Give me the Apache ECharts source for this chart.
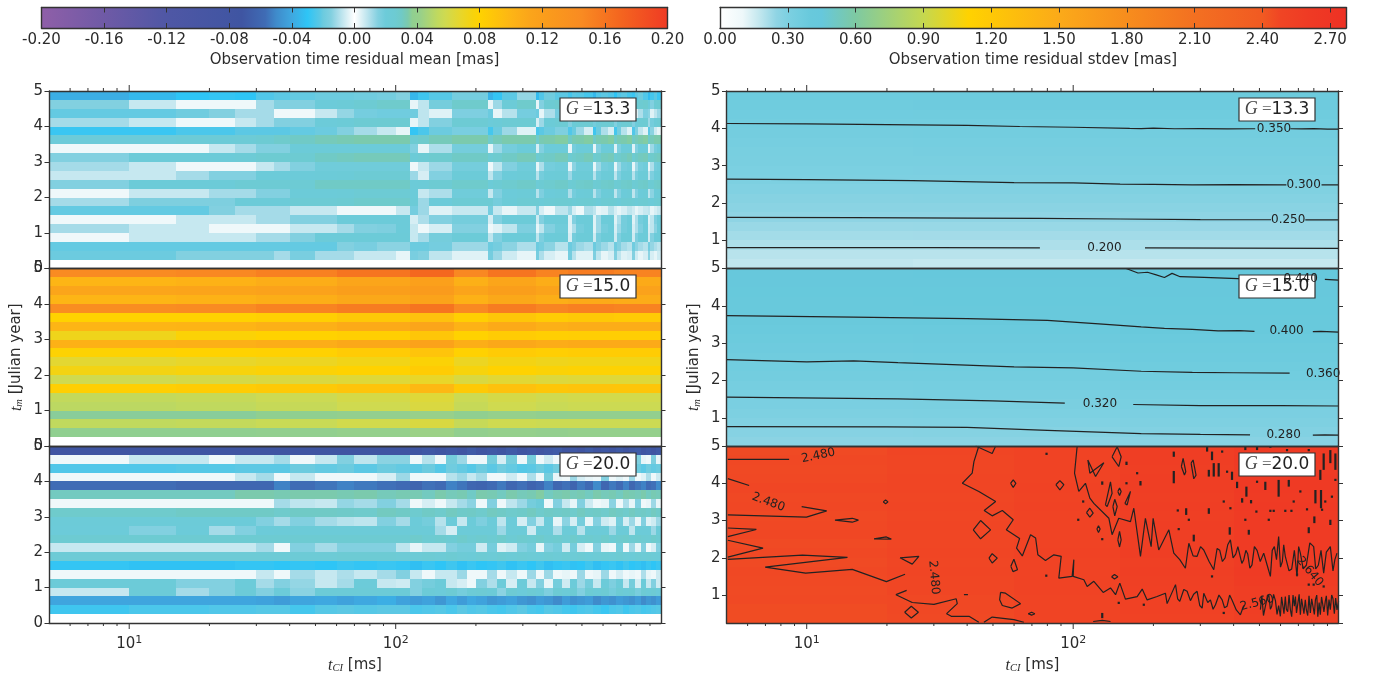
<!DOCTYPE html>
<html><head><meta charset="utf-8"><style>html,body{margin:0;padding:0;background:#fff}#c{width:1379px;height:675px}</style>
<script src="https://cdn.jsdelivr.net/npm/echarts@6/dist/echarts.min.js"></script></head><body><div id="c"></div>
<script>
// ---- values (mean rows in 0.001 mas, stdev rows in 0.001 mas; top row = 4.75-5 yr) ----
const rowEdges=[5,4.75,4.5,4.25,4,3.75,3.5,3.25,3,2.75,2.5,2.25,2,1.75,1.5,1.25,1,0.75,0.5,0.25];
const coarseEdges=[5,10,15,20,25,30,35,40,50,60,70,85,100,113];
const edgesG133=[...coarseEdges,121,133,163,222,232,250,285,335,345,360,395,443,457,475,510,550,566,590,625,660,678,700,735,769,788,812,845,883,904,928,958,990];
const edgesG150=[5,15,30,60,113,165,222,335,443,660,990];
const edgesG200=[...coarseEdges,125,140,155,170,185,200,220,240,260,285,310,335,360,390,420,450,480,515,550,590,630,670,710,750,790,830,870,910,950,990];
const edgesSdG133=[5,25,150,990];
const edgesSdG150=[5,25,150,990];
const edgesSdG200=[5,20,60,150,400,990];
const meanG133=[
[-38,-34,-30,-29,-30,-24,-22,-21,-20,-20,-19,-18,-15,-35,-27,-23,-18,-36,-29,-22,-13,-33,-24,-19,-22,-26,-22,-23,-26,-34,-24,-22,-24,-30,-24,-22,-26,-28,-22,-20,-24,-33,-26,-22,-28],
[15,7,2,2,2,11,15,15,20,22,25,28,28,3,8,18,28,3,12,22,28,3,15,25,27,15,22,25,27,20,24,26,27,20,24,26,27,22,25,26,27,20,15,24,26],
[-21,-21,-19,-15,-11,-11,-2,-2,-7,-13,-18,-19,-19,-19,-8,-4,-16,-20,-3,-9,-18,-20,-3,-10,-18,-18,-8,-15,-18,-20,-6,-12,-18,-18,-6,-14,-18,-16,-4,-10,-16,-14,-4,-8,-12],
[11,7,2,2,7,11,15,15,20,22,25,26,26,3,8,15,24,20,22,24,25,5,12,22,24,15,22,24,25,18,22,24,25,15,20,24,25,15,20,24,25,12,18,22,25],
[-28,-28,-25,-25,-22,-22,-22,-21,-20,-15,-11,-7,-3,-29,-25,-20,-17,-26,-20,-12,-4,-25,-22,-20,-16,-24,-20,-12,-5,-27,-20,-10,-5,-26,-18,-9,-4,-24,-16,-8,-4,-22,-14,-6,-3],
[20,20,22,22,23,25,28,30,32,33,34,34,34,26,28,32,34,28,32,34,34,28,33,34,35,30,33,34,35,30,33,34,35,30,33,34,35,30,32,34,35,29,32,34,34],
[2,2,2,7,11,15,15,21,21,20,20,20,20,15,3,10,18,3,12,18,20,5,15,20,20,3,18,20,20,3,15,20,20,4,16,20,20,4,15,20,20,3,12,18,20],
[15,21,21,21,23,26,26,26,30,31,32,32,32,22,24,27,30,25,27,30,32,26,28,30,32,26,28,30,32,26,28,31,32,25,28,30,32,26,29,31,32,25,28,30,31],
[11,7,2,2,2,7,11,15,19,19,19,19,19,2,7,12,18,2,8,15,19,3,10,18,19,3,14,19,19,3,12,18,19,3,12,18,19,3,12,18,19,3,10,18,19],
[7,7,11,15,15,20,20,20,21,22,24,24,24,12,5,15,21,8,15,20,22,9,18,21,22,12,20,22,22,9,18,21,22,8,16,21,22,9,17,21,22,8,16,20,22],
[15,21,21,21,24,24,24,24,30,30,30,30,30,21,22,25,28,22,25,27,29,23,25,27,29,24,26,28,29,24,26,28,29,24,26,28,29,24,26,28,29,23,25,28,29],
[2,7,7,11,11,15,15,21,21,22,24,24,24,20,7,10,19,7,15,20,22,9,16,20,22,10,18,21,22,9,16,21,22,8,15,20,22,8,15,20,22,8,14,20,22],
[11,16,16,16,21,21,21,24,24,26,28,28,28,22,12,20,24,24,18,22,25,25,22,24,26,25,23,25,26,24,22,25,26,24,22,25,26,24,22,25,26,23,21,24,26],
[-21,-21,-21,-15,-11,-11,-11,-7,-7,-2,-2,-2,-7,-18,-12,-4,-7,-18,-7,-3,-7,-15,-5,-2,-8,-12,-5,-2,-10,-8,-3,-4,-9,-5,-3,-5,-8,-6,-3,-5,-7,-8,-3,-5,-7],
[2,2,7,7,7,11,11,15,15,20,20,20,20,5,10,15,18,5,15,20,21,6,15,20,21,4,15,20,21,4,12,20,21,4,10,18,20,4,10,18,20,4,8,16,20],
[11,7,7,2,2,2,2,7,7,11,15,16,20,7,2,5,15,2,4,8,16,3,8,15,19,4,10,18,20,4,12,18,20,5,12,18,20,5,10,16,20,5,8,14,20],
[2,7,7,7,7,11,11,15,20,21,21,21,21,7,11,18,21,8,15,20,21,8,16,20,21,5,18,21,21,6,17,21,21,6,16,21,21,6,16,20,21,6,15,20,21],
[-21,-21,-21,-21,-21,-21,-21,-21,-21,-15,-17,-14,-14,-20,-20,-18,-12,-20,-18,-14,-10,-20,-18,-14,-9,-20,-16,-12,-10,-20,-15,-12,-9,-19,-15,-11,-9,-19,-14,-11,-9,-18,-13,-10,-8],
[-20,-20,-15,-15,-15,-15,-11,-17,-11,-11,-7,-7,-3,-17,-15,-8,-4,-18,-12,-6,-3,-18,-10,-5,-3,-18,-9,-4,-4,-16,-8,-3,-5,-15,-8,-4,-5,-15,-6,-3,-5,-14,-5,-3,-6]];
const meanG150=[
[145,147,152,160,168,147,160,150,155,150],
[100,102,106,112,118,104,112,106,110,108],
[112,113,116,120,124,113,120,114,118,116],
[100,102,105,110,114,103,110,105,108,107],
[143,145,150,155,160,146,155,149,152,150],
[80,80,82,87,92,82,88,84,86,85],
[100,101,104,108,112,102,108,104,106,106],
[72,78,80,82,88,80,84,82,83,83],
[103,104,106,110,115,105,110,107,108,108],
[79,80,81,85,90,81,85,83,84,84],
[66,68,70,73,78,70,74,72,73,73],
[74,76,78,80,84,76,80,78,79,79],
[58,60,62,64,68,62,65,63,64,64],
[82,84,86,90,98,86,92,88,90,89],
[54,55,57,60,64,57,60,58,59,59],
[52,53,55,58,62,55,58,56,57,57],
[36,36,37,39,42,37,40,38,39,39],
[53,54,56,59,62,55,58,57,57,57],
[37,37,38,40,43,38,40,39,40,40]];
const meanG200=[
[-72,-72,-72,-72,-72,-72,-72,-72,-72,-72,-72,-72,-72,-72,-70,-73,-70,-72,-68,-72,-70,-73,-68,-72,-70,-74,-70,-68,-72,-70,-74,-68,-72,-70,-73,-69,-72,-70,-68,-73,-70,-72,-69],
[2,7,7,2,7,7,11,2,7,15,8,14,14,2,9,2,18,12,2,2,18,5,18,2,18,2,6,2,18,5,2,12,2,5,2,14,2,3,16,3,2,16,3],
[-24,-24,-23,-23,-22,-22,-22,-20,-21,-20,-22,-20,-21,-22,-20,-23,-19,-21,-23,-20,-22,-19,-21,-23,-22,-20,-22,-19,-21,-23,-20,-22,-24,-20,-22,-19,-23,-21,-20,-22,-19,-21,-20],
[2,2,2,2,7,11,2,7,2,2,2,5,12,2,2,2,9,12,7,11,2,2,6,2,10,2,18,3,2,12,5,3,2,15,2,4,2,12,2,4,10,2,6],
[-57,-57,-60,-60,-60,-60,-52,-57,-55,-52,-54,-56,-58,-62,-56,-58,-52,-55,-60,-62,-58,-54,-60,-56,-62,-58,-52,-60,-56,-62,-54,-58,-50,-60,-54,-58,-52,-60,-55,-52,-58,-56,-50],
[31,31,31,31,34,34,33,34,34,33,34,32,33,33,31,34,32,33,30,34,33,31,34,32,33,35,31,33,34,32,33,31,34,32,33,31,34,33,32,34,31,33,32],
[2,2,2,2,2,2,11,8,7,13,11,15,11,2,5,2,7,11,14,2,15,2,8,12,18,20,2,15,7,3,15,6,2,3,14,2,10,3,15,2,3,12,3],
[28,28,30,30,30,30,28,30,30,29,28,31,30,27,30,28,31,29,30,28,31,30,28,29,31,28,30,29,30,28,31,29,30,28,31,30,28,31,29,30,28,31,29],
[21,21,21,21,20,15,11,15,11,9,8,15,11,20,18,9,20,7,20,16,20,8,20,5,15,7,20,3,14,5,18,3,15,6,4,18,5,12,3,15,4,6,12],
[20,15,20,11,15,20,21,21,21,21,21,21,21,21,21,11,5,21,21,21,21,12,21,21,6,21,21,10,21,21,9,21,21,21,12,21,21,8,21,21,21,12,21],
[26,26,26,26,26,26,26,26,26,26,26,26,26,28,26,27,25,28,26,27,26,28,25,27,26,28,26,27,25,28,26,27,26,28,25,27,28,26,27,26,25,28,26],
[7,7,7,7,7,11,2,15,11,15,15,15,8,3,7,7,15,18,18,6,18,4,6,15,18,3,15,18,6,18,5,2,15,3,2,18,2,12,3,15,2,5,15],
[23,23,23,23,23,23,23,23,23,24,24,24,23,23,24,23,25,23,22,24,23,25,23,24,23,22,24,23,25,23,24,22,23,24,23,25,23,22,24,23,24,23,22],
[-29,-31,-31,-31,-29,-29,-30,-29,-30,-28,-29,-28,-29,-32,-28,-30,-27,-31,-28,-30,-29,-27,-31,-28,-30,-27,-32,-29,-28,-31,-30,-27,-32,-29,-28,-31,-27,-30,-29,-32,-28,-30,-28],
[2,2,2,2,2,7,2,11,7,10,7,11,15,7,2,7,7,12,2,2,11,2,7,2,12,2,12,2,3,2,12,2,3,12,2,5,2,3,2,10,3,2,6],
[21,21,15,15,20,11,15,13,7,11,20,7,6,15,18,20,7,5,2,15,10,20,5,20,7,15,3,18,6,20,12,18,7,20,16,20,7,18,5,20,7,15,6],
[7,21,11,15,21,15,20,14,22,22,22,22,22,15,22,20,24,18,23,24,22,14,24,20,24,22,16,24,22,24,15,24,22,24,18,24,22,24,17,24,22,24,20],
[-41,-41,-41,-41,-41,-42,-44,-41,-40,-42,-40,-38,-42,-44,-42,-46,-40,-44,-40,-42,-46,-44,-42,-46,-48,-44,-46,-50,-44,-48,-46,-44,-50,-46,-48,-44,-46,-48,-44,-50,-46,-48,-44],
[-27,-25,-25,-24,-24,-23,-23,-26,-23,-22,-23,-22,-22,-25,-24,-23,-25,-22,-24,-23,-25,-26,-24,-22,-25,-26,-23,-24,-26,-27,-25,-24,-26,-28,-25,-24,-27,-25,-24,-26,-25,-24,-23]];
const stdevG133=[[375,377,380],[367,369,372],[358,360,363],[350,352,355],[342,344,347],[333,335,338],[325,327,330],[316,318,321],[308,310,313],[300,302,305],[288,290,293],[276,278,280],[263,265,267],[250,251,252],[235,236,237],[220,221,222],[205,206,207],[190,190,191],[178,172,168]];
const stdevG150=[[437,439,445],[428,430,437],[420,422,429],[412,414,421],[404,406,414],[396,398,406],[388,390,398],[380,382,390],[370,373,381],[362,365,373],[353,356,365],[344,347,356],[333,336,345],[323,326,334],[312,315,322],[300,303,310],[288,291,298],[275,278,285],[262,265,270]];
const stdevG200=[[2462,2480,2510,2560,2600],[2470,2478,2505,2565,2610],[2465,2475,2500,2555,2600],[2470,2480,2510,2560,2610],[2475,2485,2512,2570,2615],[2468,2478,2505,2555,2600],[2472,2482,2515,2565,2610],[2465,2478,2508,2552,2600],[2470,2480,2505,2560,2605],[2472,2478,2510,2550,2595],[2462,2476,2505,2555,2600],[2470,2482,2512,2560,2605],[2460,2475,2505,2545,2590],[2470,2480,2510,2550,2595],[2465,2478,2505,2545,2590],[2460,2475,2500,2535,2570],[2465,2470,2495,2530,2565],[2455,2468,2498,2525,2560],[2455,2465,2490,2520,2555]];
const majorTicks=[10,100];
const minorTicks=[6,7,8,9,20,30,40,50,60,70,80,90,200,300,400,500,600,700,800,900];
const meanStops=[[-200,'#8f5fa8'],[-160,'#6f5aa6'],[-120,'#4f57a5'],[-72,'#3f55a2'],[-57,'#3f6cb5'],[-50,'#3f8bcb'],[-40,'#3fa8e0'],[-30,'#2ec5f6'],[-22,'#5cc8e4'],[-20,'#6ccbdf'],[-15,'#82d0e0'],[-11,'#a5dbe8'],[-7,'#c6e8f0'],[-2,'#eff8fa'],[0,'#ffffff'],[2,'#eff8fa'],[7,'#c6e8f0'],[11,'#a5dbe8'],[15,'#82d0e0'],[20,'#6ccbd9'],[26,'#6dcbd2'],[30,'#70cac6'],[34,'#7bcaad'],[37,'#90cf90'],[42,'#98d08a'],[53,'#c0d95e'],[58,'#cfda50'],[68,'#e8d62a'],[75,'#f5d30f'],[80,'#ffd200'],[100,'#fdb515'],[112,'#fba51a'],[125,'#fa9a1c'],[145,'#f98b22'],[170,'#f4651f'],[200,'#ef3b24']];
const stdevStops=[[0,'#ffffff'],[100,'#eef8fa'],[170,'#c5e8ef'],[250,'#8fd4e4'],[300,'#7dd0e1'],[350,'#72cddf'],[400,'#68c9dc'],[450,'#66c8dc'],[600,'#7ec9a2'],[900,'#c5d84f'],[1100,'#ffd200'],[1500,'#fbaa19'],[2100,'#f37021'],[2400,'#f15a22'],[2480,'#f04524'],[2600,'#ef3b24'],[2770,'#ee3124']];
const meanTicksInterval=0.04, stdevTicksInterval=0.3;
const boxLabels=['13.3','15.0','20.0'];
// contour lines: [t_CI ms, t_m yr]
const contoursG133=[
[[5,4.13],[10,4.12],[20,4.10],[40,4.08],[63,4.05],[100,4.03],[163,4.0],[180,3.995],[200,4.005],[240,3.99],[300,3.995],[380,3.985],[482,3.99]],
[[653,3.99],[720,3.985],[800,3.995],[900,3.98],[990,3.98]],
[[5,2.64],[10,2.63],[25,2.60],[60,2.55],[100,2.54],[150,2.51],[200,2.50],[280,2.49],[400,2.495],[631,2.49]],
[[855,2.49],[990,2.49]],
[[5,1.62],[15,1.61],[40,1.60],[75,1.59],[150,1.575],[300,1.56],[553,1.555]],
[[743,1.55],[990,1.55]],
[[5,0.81],[30,0.81],[75,0.80]],
[[186,0.80],[400,0.795],[990,0.79]]];
const contoursG150=[
[[158,5],[175,4.88],[190,4.90],[205,4.83],[220,4.76],[235,4.87],[252,4.78],[310,4.76],[440,4.72]],
[[880,4.71],[990,4.69]],
[[5,3.74],[15,3.70],[40,3.66],[80,3.61],[125,3.52],[180,3.44],[220,3.40],[280,3.37],[350,3.33],[420,3.34],[479,3.32]],
[[793,3.31],[850,3.32],[990,3.30]],
[[5,2.56],[10,2.50],[15,2.53],[22,2.48],[60,2.37],[100,2.34],[180,2.25],[280,2.22],[400,2.21],[649,2.2]],
[[5,1.56],[22,1.51],[50,1.46],[93,1.40]],
[[168,1.36],[300,1.33],[600,1.33],[990,1.32]],
[[5,0.77],[20,0.76],[40,0.75],[80,0.67],[180,0.58],[300,0.56],[461,0.55]],
[[793,0.54],[880,0.55],[990,0.54]]];
// G=20 contours: [log10(t_CI), t_m]
const contoursG200Log=[
[[0.704,4.64],[0.934,4.64]],
[[0.704,4.125],[0.784,3.94]],
[[0.981,3.375],[1.075,3.26],[0.999,3.09],[0.704,3.15]],
[[1.106,3.01],[1.171,3.06],[1.194,3.01],[1.171,2.955],[1.106,3.01]],
[[0.704,2.80],[0.811,2.76],[0.704,2.57]],
[[0.704,2.47],[0.836,2.26],[0.704,2.02]],
[[0.704,1.96],[0.984,2.07],[1.153,2.01],[0.844,1.75],[0.996,1.59],[1.171,1.69],[1.299,1.36],[1.369,1.56]],
[[1.2525,2.51],[1.299,2.56],[1.3175,2.5],[1.2525,2.51]],
[[1.287,3.5],[1.296,3.55],[1.305,3.5],[1.296,3.45],[1.287,3.5]],
[[1.35,2.0],[1.421,2.04],[1.396,1.83],[1.35,2.0]],
[[1.375,1.125],[1.335,1.01],[1.396,0.80],[1.4775,0.75],[1.561,0.90],[1.565,0.77],[1.525,0.5],[1.5425,0.43],[1.609,0.43],[1.646,0.27]],
[[1.665,0.27],[1.696,0.41],[1.7775,0.34],[1.815,0.27]],
[[1.3675,0.54],[1.3925,0.70],[1.419,0.54],[1.3925,0.385],[1.3675,0.54]],
[[1.646,5],[1.6275,4.58],[1.631,4.54],[1.621,4.27],[1.584,4.0],[1.646,3.78],[1.709,3.51],[1.666,3.27],[1.696,3.125],[1.734,3.27],[1.775,3.02],[1.749,2.75],[1.799,2.52],[1.7875,2.26],[1.809,2.05],[1.84,2.62],[1.859,2.53],[1.8675,2.08],[1.896,1.93],[1.9275,2.08],[1.955,2.04],[1.946,1.455],[1.996,1.5],[2.0025,1.95],[2.0,1.5],[2.04,1.41],[2.0525,1.23],[2.0775,1.37],[2.1125,1.07],[2.14,1.19],[2.159,1.01],[2.175,1.32],[2.196,0.89],[2.24,0.96],[2.259,1.16],[2.2775,0.87],[2.315,0.96],[2.346,1.05],[2.3525,0.77],[2.384,1.28],[2.392,0.9],[2.40,0.83],[2.415,1.15],[2.4275,1.10],[2.44,0.85],[2.452,1.02],[2.465,1.10],[2.475,0.72],[2.484,0.65],[2.49,1.05],[2.496,1.10],[2.505,0.8],[2.515,0.87],[2.525,0.62],[2.534,0.74],[2.547,1.0],[2.559,0.87],[2.568,0.66],[2.5775,0.70],[2.587,1.0],[2.596,0.87],[2.612,0.6],[2.6275,0.47],[2.64,0.72]],
[[2.7025,0.61],[2.708,0.98],[2.714,0.45],[2.721,0.43],[2.727,0.9],[2.734,1.01],[2.74,0.62],[2.745,0.7],[2.752,1.02],[2.759,0.85],[2.765,0.48],[2.771,0.72],[2.7775,0.43],[2.782,0.95],[2.786,0.9],[2.791,0.5],[2.796,0.96],[2.80,0.62],[2.805,0.55],[2.81,1.0],[2.815,0.61],[2.82,0.42],[2.825,1.0],[2.83,0.7],[2.834,0.96],[2.838,0.52],[2.843,0.5],[2.848,1.02],[2.8525,0.47],[2.857,0.9],[2.861,0.95],[2.866,0.5],[2.871,0.87],[2.875,0.6],[2.88,0.45],[2.885,0.98],[2.89,0.52],[2.895,0.9],[2.9,0.95],[2.905,0.48],[2.909,0.87],[2.914,1.0],[2.918,0.42],[2.923,0.8],[2.9275,0.47],[2.932,0.95],[2.937,0.9],[2.941,0.55],[2.946,0.83],[2.95,0.98],[2.955,0.45],[2.96,0.88],[2.965,0.61],[2.97,1.0],[2.975,0.9],[2.98,0.5],[2.985,0.92],[2.99,0.6],[2.996,0.83]],
[[2.015,5],[2.005,4.27],[2.021,3.78],[2.046,4.0],[2.0625,3.6],[2.0775,3.46],[2.134,3.06],[2.146,2.62],[2.171,3.06],[2.215,2.97],[2.2275,3.33],[2.2525,2.04],[2.271,3.06],[2.2925,2.30],[2.30,3.06],[2.321,2.21],[2.359,2.75],[2.3775,2.125],[2.40,1.95],[2.421,1.72],[2.434,2.39],[2.45,2.05],[2.465,2.04],[2.478,2.3],[2.49,2.21],[2.51,1.9],[2.5275,1.68],[2.54,2.25],[2.55,2.2],[2.56,1.9],[2.57,2.0],[2.58,2.35],[2.59,2.48],[2.6,2.0],[2.61,2.1],[2.618,2.3],[2.625,2.25],[2.633,1.85],[2.64,1.95],[2.648,2.2],[2.655,2.1],[2.663,1.72],[2.671,1.81],[2.68,2.3],[2.69,2.2],[2.702,1.9],[2.715,2.125],[2.728,1.8],[2.74,1.5],[2.747,2.2],[2.755,2.3],[2.763,1.95],[2.771,2.57],[2.778,1.75],[2.785,1.9],[2.79,2.35],[2.796,2.04],[2.81,1.65],[2.82,1.7],[2.83,2.2],[2.84,1.5],[2.846,2.3],[2.8525,2.125],[2.863,1.7],[2.875,1.8],[2.888,2.4],[2.9025,2.30],[2.91,1.7],[2.92,1.8],[2.93,2.2],[2.94,1.59],[2.95,2.15],[2.965,2.3],[2.975,1.65],[2.982,1.95],[2.99,2.125]],
[[1.935,3.96],[1.95,4.07],[1.965,3.96],[1.95,3.82],[1.935,3.96]],
[[2.055,4.625],[2.0625,4.27],[2.115,4.55],[2.084,4.18],[2.055,4.625]],
[[2.146,4.71],[2.165,4.98],[2.18,4.71],[2.171,4.45],[2.146,4.71]],
[[2.121,3.42],[2.14,4.04],[2.146,3.73],[2.1275,3.375],[2.121,3.42]],
[[2.1675,3.78],[2.174,3.87],[2.18,3.78],[2.174,3.67],[2.1675,3.78]],
[[2.194,3.46],[2.215,3.78],[2.2025,3.42],[2.194,3.46]],
[[2.149,3.375],[2.156,3.57],[2.165,3.375],[2.156,3.125],[2.149,3.375]],
[[2.05,3.21],[2.0625,3.33],[2.075,3.2],[2.0625,3.09],[2.05,3.21]],
[[2.089,2.77],[2.095,2.86],[2.101,2.77],[2.095,2.68],[2.089,2.77]],
[[2.1675,2.48],[2.174,2.71],[2.18,2.48],[2.174,2.29],[2.1675,2.48]],
[[2.144,1.49],[2.155,1.55],[2.1675,1.49],[2.155,1.43],[2.144,1.49]],
[[2.406,4.45],[2.4125,4.67],[2.4225,4.31],[2.4175,4.22],[2.406,4.45]],
[[2.4425,4.54],[2.45,4.625],[2.461,4.22],[2.4525,4.12],[2.4425,4.54]],
[[1.625,2.75],[1.6525,3.0],[1.69,2.75],[1.6525,2.51],[1.625,2.75]],
[[1.765,4.0],[1.775,4.09],[1.785,4.0],[1.775,3.89],[1.765,4.0]],
[[1.684,1.99],[1.696,2.11],[1.715,1.99],[1.696,1.86],[1.684,1.99]],
[[1.766,1.77],[1.7775,1.96],[1.791,1.68],[1.774,1.63],[1.766,1.77]],
[[1.7275,1.07],[1.746,1.05],[1.8025,0.77],[1.771,0.65],[1.734,0.72],[1.724,0.875],[1.7275,1.07]],
[[1.634,5],[1.696,4.80],[1.709,5]],
[[1.59,1.01],[1.605,1.01]],
[[1.831,0.5],[1.844,0.54],[1.856,0.5],[1.844,0.46],[1.831,0.5]],
[[2.075,0.29],[2.109,0.32],[2.14,0.29]]];
// short contour blobs: [log10(t_CI), t_m low, t_m high]
const contourSpecks=[[1.90,4.76,4.82],[2.24,4.24,4.3],[2.2525,3.94,4.06],[2.3775,4.71,4.85],[2.3775,4.0,4.33],[2.2,4.49,4.58],[2.109,3.96,4.05],[2.2,3.97,4.03],[2.0375,3.48,3.54],[2.019,2.99,3.05],[2.109,2.47,2.53],[2.424,3.15,3.33],[2.509,3.18,3.33],[2.3925,3.24,3.3],[2.434,2.99,3.05],[2.59,3.3,3.36],[2.5875,2.62,2.82],[2.396,2.74,2.8],[2.4525,2.44,2.62],[2.659,2.62,2.75],[2.74,3.23,3.29],[2.7525,3.23,3.29],[2.796,3.23,3.29],[2.819,3.23,3.29],[2.8775,3.27,3.33],[2.934,3.26,3.32],[2.905,2.93,3.11],[2.965,2.88,3.02],[2.884,2.66,2.82],[2.734,2.99,3.05],[2.6875,3.21,3.27],[2.646,2.99,3.05],[2.565,3.48,3.54],[2.634,3.48,3.6],[2.6675,3.46,3.55],[2.65,3.64,3.91],[2.615,3.87,4.04],[2.69,4.01,4.07],[2.721,3.82,4.04],[2.771,3.64,4.09],[2.809,3.91,4.09],[2.8275,3.48,3.54],[2.8525,3.75,3.81],[2.909,3.46,3.82],[2.93,3.33,3.82],[2.946,3.48,3.54],[2.971,3.61,3.67],[2.984,4.06,4.12],[2.9275,4.09,4.36],[2.94,4.36,4.8],[2.965,4.54,4.89],[2.984,4.36,4.8],[2.596,4.09,4.31],[2.5775,4.28,4.34],[2.546,4.18,4.54],[2.5275,4.18,4.54],[2.509,4.18,4.36],[2.5025,4.85,5],[2.521,4.62,4.85],[2.559,4.82,4.88],[2.646,4.89,5],[2.69,4.89,5],[2.74,4.95,5],[2.8025,4.86,4.92],[2.884,4.86,4.92],[2.521,1.47,1.53],[2.565,0.49,0.55],[2.109,0.38,0.52],[2.171,0.76,0.82],[2.265,0.71,0.77],[1.899,1.49,1.55],[2.9025,1.25,1.31],[2.94,1.2,1.26],[2.884,1.25,1.31],[2.84,1.52,1.58]];
// contour labels: [t_CI ms, t_m yr, text, rotation deg]
const labelsG133=[[567,3.99,'0.350',0],[733,2.49,'0.300',0],[641,1.55,'0.250',0],[131,0.80,'0.200',0]];
const labelsG150=[[714,4.71,'0.440',0],[632,3.32,'0.400',0],[867,2.18,'0.360',0],[126,1.37,'0.320',0],[616,0.54,'0.280',0]];
const labelsG200=[[11.06,4.74,'2.480',12],[7.18,3.49,'2.480',-20],[30,1.47,'2.480',-85],[490,0.79,'2.560',15],[772,1.63,'2.640',-50]];

// ---- helpers ----
const TXT='#2b2b2b', FF='DejaVu Sans', XMIN=5, XMAX=990;
function hex(c){return [1,3,5].map(i=>parseInt(c.slice(i,i+2),16));}
function cmap(stops,v){
  if(v<=stops[0][0])return stops[0][1];
  for(let i=1;i<stops.length;i++){ if(v<=stops[i][0]){
    const t=(v-stops[i-1][0])/(stops[i][0]-stops[i-1][0]),a=hex(stops[i-1][1]),b=hex(stops[i][1]);
    return 'rgb('+a.map((x,k)=>Math.round(x+(b[k]-x)*t)).join(',')+')';}}
  return stops[stops.length-1][1];
}
function cells(rows,edges){const out=[];rows.forEach((r,j)=>r.forEach((v,i)=>{if(i+1<edges.length)out.push([edges[i],edges[i+1],rowEdges[j],rowEdges[j+1],v]);}));return out;}
const specksLines=contourSpecks.map(s=>[[Math.pow(10,s[0]),s[1]],[Math.pow(10,s[0]),s[2]]]);
const panels=[
 {l:49,t:91,h:177.5,rows:meanG133,edges:edgesG133,stops:meanStops,ymin:0,box:0,lines:[],labels:[]},
 {l:49,t:268.5,h:177.5,rows:meanG150,edges:edgesG150,stops:meanStops,ymin:0,box:1,lines:[],labels:[],name:1},
 {l:49,t:446,h:177,rows:meanG200,edges:edgesG200,stops:meanStops,ymin:0,box:2,lines:[],labels:[],bottom:1},
 {l:726.5,t:91,h:177.5,rows:stdevG133,edges:edgesSdG133,stops:stdevStops,ymin:0.25,box:0,lines:contoursG133,labels:labelsG133},
 {l:726.5,t:268.5,h:177.5,rows:stdevG150,edges:edgesSdG150,stops:stdevStops,ymin:0.25,box:1,lines:contoursG150,labels:labelsG150,name:1},
 {l:726.5,t:446,h:177,rows:stdevG200,edges:edgesSdG200,stops:stdevStops,ymin:0.25,box:2,
  lines:contoursG200Log.map(p=>p.map(q=>[Math.pow(10,q[0]),q[1]])),specks:specksLines,labels:labelsG200,bottom:1}
];
const grid=[],xAxis=[],yAxis=[],series=[],graphic=[];
const lineS={lineStyle:{color:'#333',width:1.4}};
const richX={b:{fontSize:15,color:TXT,fontFamily:FF},e:{fontSize:11,color:TXT,fontFamily:FF,padding:[0,0,8,0]}};
const nameRich={i:{fontFamily:'Liberation Serif',fontStyle:'italic',fontSize:16,color:TXT},s:{fontFamily:'Liberation Serif',fontStyle:'italic',fontSize:10.5,color:TXT,padding:[6,0,0,0]},n:{fontFamily:FF,fontSize:15,color:TXT}};
panels.forEach((p,i)=>{
  grid.push({left:p.l,top:p.t,width:612,height:p.h,outerBoundsMode:'none',containLabel:false});
  const xb={gridIndex:i,type:'log',logBase:10,min:XMIN,max:XMAX,position:'bottom',z:10,axisLine:{show:true,onZero:false,...lineS},axisTick:{show:false},splitLine:{show:false},minorTick:{show:false},
    axisLabel:{show:!!p.bottom,margin:12,showMinLabel:false,showMaxLabel:false,color:TXT,fontFamily:FF,formatter:v=>'{b|10}{e|'+Math.round(Math.log10(v))+'}',rich:richX}};
  if(p.bottom){Object.assign(xb,{name:'{i|t}{s|CI}{n| [ms]}',nameLocation:'middle',nameGap:34,nameTextStyle:{rich:nameRich}});}
  xAxis.push(xb);
  xAxis.push({gridIndex:i,type:'log',logBase:10,min:XMIN,max:XMAX,position:'top',z:10,axisLine:{show:true,onZero:false,...lineS},axisTick:{show:false},axisLabel:{show:false},splitLine:{show:false}});
  const yl={gridIndex:i,type:'value',min:p.ymin,max:5,position:'left',z:10,axisLine:{show:true,onZero:false,...lineS},axisTick:{show:true,length:4.5,lineStyle:{color:'#333',width:1}},splitLine:{show:false},
    axisLabel:{margin:6,fontSize:15,color:TXT,fontFamily:FF,showMinLabel:p.ymin===0}};
  if(p.ymin===0)yl.interval=1;
  if(p.name){Object.assign(yl,{name:'{i|t}{s|m}{n| [Julian year]}',nameLocation:'middle',nameRotate:90,nameGap:24,nameTextStyle:{rich:nameRich}});}
  yAxis.push(yl);
  const yr={gridIndex:i,type:'value',min:p.ymin,max:5,position:'right',z:10,axisLine:{show:true,onZero:false,...lineS},axisTick:{show:true,length:4.5,lineStyle:{color:'#333',width:1}},axisLabel:{show:false},splitLine:{show:false}};
  if(p.ymin===0)yr.interval=1;
  yAxis.push(yr);
  const xi=2*i, yi=2*i, st=p.stops;
  series.push({type:'custom',coordinateSystem:'cartesian2d',xAxisIndex:xi,yAxisIndex:yi,z:1,silent:true,animation:false,clip:true,encode:{x:[0,1],y:[2,3]},data:cells(p.rows,p.edges),
    renderItem:(pr,api)=>{const a=api.coord([api.value(0),api.value(2)]),b=api.coord([api.value(1),api.value(3)]);
      const x0=Math.round(a[0]),x1=Math.round(b[0]),y0=Math.round(a[1]),y1=Math.round(b[1]);
      return {type:'rect',shape:{x:x0,y:y0,width:x1-x0,height:y1-y0},style:{fill:cmap(st,api.value(4))}};}});
  p.lines.forEach(l=>series.push({type:'line',xAxisIndex:xi,yAxisIndex:yi,data:l,symbol:'none',z:3,silent:true,animation:false,lineStyle:{color:'#222',width:1.2}}));
  (p.specks||[]).forEach(l=>series.push({type:'line',xAxisIndex:xi,yAxisIndex:yi,data:l,symbol:'none',z:3,silent:true,animation:false,lineStyle:{color:'#222',width:2.2}}));
  if(p.labels.length)series.push({type:'custom',coordinateSystem:'cartesian2d',xAxisIndex:xi,yAxisIndex:yi,z:60,silent:true,animation:false,encode:{x:0,y:1},
    data:p.labels.map(d=>[d[0],d[1],d[3],d[2]]),
    renderItem:(pr,api)=>{const c=api.coord([api.value(0),api.value(1)]);
      return {type:'text',x:c[0],y:c[1],rotation:api.value(2)*Math.PI/180,z2:100,style:{text:p.labels[pr.dataIndex][2],fontSize:12,fontFamily:FF,fill:'#222',textAlign:'center',textVerticalAlign:'middle'}};}});
  // log x ticks
  if(i===0||i===3||p.bottom){
    const yAnchor=p.bottom?p.ymin:5, dir=p.bottom?1:-1;
    const td=[...majorTicks.map(v=>[v,yAnchor,6]),...minorTicks.map(v=>[v,yAnchor,3])];
    series.push({type:'custom',coordinateSystem:'cartesian2d',xAxisIndex:xi,yAxisIndex:yi,z:11,silent:true,animation:false,clip:false,encode:{x:0,y:1},data:td,
      renderItem:(pr,api)=>{const c=api.coord([api.value(0),api.value(1)]);
        return {type:'line',shape:{x1:c[0],y1:c[1],x2:c[0],y2:c[1]+dir*api.value(2)},style:{stroke:'#333',lineWidth:1}};}});
  }
  // G box
  const bx=i<3?560:1239, by=[98,275,453][i%3];
  graphic.push({type:'rect',z:50,silent:true,shape:{x:bx,y:by,width:76,height:23},style:{fill:'#fff',stroke:'#333',lineWidth:1.2}});
  graphic.push({type:'text',z:51,silent:true,x:bx+38,y:by+11.5,style:{text:'{g|G}{q| =}{v|'+boxLabels[p.box]+'}',textAlign:'center',textVerticalAlign:'middle',
    rich:{g:{fontFamily:'Liberation Serif',fontStyle:'italic',fontSize:18,fill:'#444',color:'#444'},q:{fontFamily:'Liberation Serif',fontSize:17,fill:'#666',color:'#666'},v:{fontFamily:FF,fontSize:17,fill:'#222',color:'#222'}}}});
});
// colour bars
[{l:41.5,w:626,min:-0.2,max:0.2,iv:meanTicksInterval,stops:meanStops,name:'Observation time residual mean [mas]'},
 {l:720,w:626,min:0,max:2.77,iv:stdevTicksInterval,stops:stdevStops,name:'Observation time residual stdev [mas]'}].forEach((b,k)=>{
  const gi=grid.length;
  grid.push({left:b.l,top:7.5,width:b.w,height:20.5,outerBoundsMode:'none',containLabel:false});
  const xi=xAxis.length, yi=yAxis.length;
  const t={show:true,inside:true,length:5,lineStyle:{color:'#333',width:1}};
  xAxis.push({gridIndex:gi,type:'value',min:b.min,max:b.max,interval:b.iv,position:'bottom',z:10,axisLine:{show:true,onZero:false,...lineS},axisTick:t,splitLine:{show:false},
    axisLabel:{margin:5,fontSize:15,color:TXT,fontFamily:FF,showMaxLabel:b.max===0.2,showMinLabel:true,formatter:v=>(Math.abs(v)<1e-9?0:v).toFixed(2)},
    name:b.name,nameLocation:'middle',nameGap:25,nameTextStyle:{fontSize:15,color:TXT,fontFamily:FF}});
  xAxis.push({gridIndex:gi,type:'value',min:b.min,max:b.max,interval:b.iv,position:'top',z:10,axisLine:{show:true,onZero:false,...lineS},axisTick:t,axisLabel:{show:false},splitLine:{show:false}});
  yAxis.push({gridIndex:gi,type:'value',min:0,max:1,position:'left',z:10,axisLine:{show:true,onZero:false,...lineS},axisTick:{show:false},axisLabel:{show:false},splitLine:{show:false}});
  yAxis.push({gridIndex:gi,type:'value',min:0,max:1,position:'right',z:10,axisLine:{show:true,onZero:false,...lineS},axisTick:{show:false},axisLabel:{show:false},splitLine:{show:false}});
  const lo=b.stops[0][0], hi=b.stops[b.stops.length-1][0];
  const grad=new echarts.graphic.LinearGradient(0,0,1,0,b.stops.map(s=>({offset:(s[0]-lo)/(hi-lo),color:s[1]})));
  series.push({type:'custom',coordinateSystem:'cartesian2d',xAxisIndex:xi,yAxisIndex:yi,z:1,silent:true,animation:false,encode:{x:[0,1],y:[2,3]},data:[[b.min,b.max,1,0]],
    renderItem:(pr,api)=>{const a=api.coord([api.value(0),api.value(2)]),c=api.coord([api.value(1),api.value(3)]);
      return {type:'rect',shape:{x:a[0],y:a[1],width:c[0]-a[0],height:c[1]-a[1]},style:{fill:grad}};}});
});
const chart=echarts.init(document.getElementById('c'),null,{renderer:'canvas',width:1379,height:675});
chart.setOption({animation:false,backgroundColor:'#fff',tooltip:{show:false},grid,xAxis,yAxis,series,graphic:{elements:graphic}});
</script></body></html>
